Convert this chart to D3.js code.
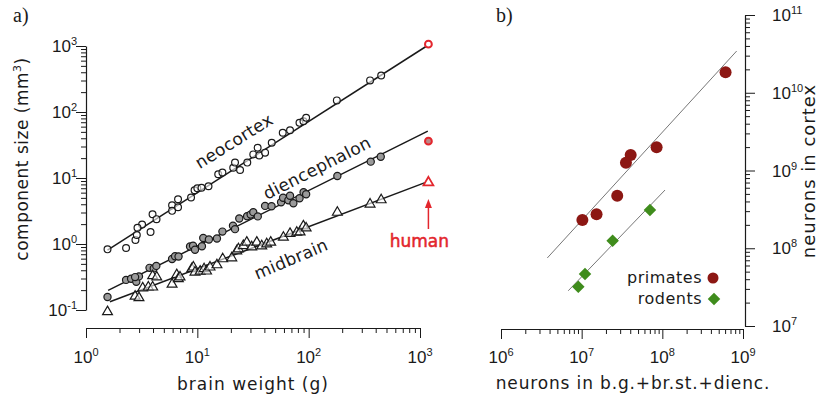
<!DOCTYPE html>
<html>
<head>
<meta charset="utf-8">
<script src="https://cdn.jsdelivr.net/npm/d3@7"></script>
<style>
  body { margin: 0; background: #fff; }
  svg { display: block; }
</style>
</head>
<body>
<svg id="chart" width="820" height="399"></svg>
<script>
// ---- panel a: [brain weight (g), component size (mm3)] ----
const neocortex = [
  [1.56, 0.83], [2.29, 0.87], [2.78, 1.15], [2.86, 1.37], [3.19, 1.97], [2.90, 1.76],
  [3.80, 1.52], [3.96, 2.83], [4.30, 2.38], [5.93, 3.87], [5.93, 3.18], [6.71, 4.77],
  [6.71, 3.61], [8.78, 5.06], [9.44, 6.52], [10.0, 7.0], [10.9, 7.11], [12.6, 7.5],
  [15.4, 11.4], [16.8, 12.1], [21.0, 14.3], [21.8, 17.1], [24.2, 13.2], [28.1, 17.1],
  [31.8, 22.8], [34.8, 28.8], [36.0, 22.0], [40.6, 24.2], [46.6, 34.2], [58.5, 48.4],
  [68.0, 53.0], [82.7, 68.5], [89.8, 72.4], [94.9, 81.5], [179, 150], [356, 301], [448, 358]
];
const diencephalon = [
  [1.56, 0.157], [2.29, 0.286], [2.54, 0.297], [2.83, 0.267], [2.99, 0.323], [2.76, 0.315],
  [3.72, 0.435], [4.06, 0.427], [4.28, 0.466], [5.93, 0.594], [6.31, 0.652], [6.78, 0.648],
  [8.6, 0.917], [9.15, 0.943], [9.53, 0.82], [11.0, 0.923], [11.3, 1.23], [12.7, 1.17],
  [15.0, 1.21], [16.8, 1.54], [20.9, 1.89], [21.8, 1.68], [23.8, 2.44], [28.0, 2.64],
  [30.1, 2.79], [31.8, 3.04], [34.9, 2.62], [40.6, 3.78], [46.4, 3.74], [56.5, 4.30],
  [58.9, 5.03], [65.7, 4.61], [68.0, 5.39], [72.9, 4.15], [82.8, 4.94], [90.0, 6.09],
  [94.9, 5.68], [181, 10.7], [361, 17.7], [444, 21.0]
];
const midbrain = [
  [1.56, 0.094], [2.76, 0.161], [2.99, 0.153], [3.23, 0.215], [3.63, 0.222], [3.97, 0.222],
  [3.97, 0.329], [4.32, 0.315], [5.93, 0.245], [6.53, 0.341], [6.75, 0.297], [6.99, 0.315],
  [8.91, 0.42], [9.21, 0.446], [9.53, 0.374], [10.6, 0.385], [11.5, 0.42], [12.1, 0.388],
  [13.0, 0.446], [15.0, 0.482], [16.9, 0.594], [20.4, 0.615], [22.6, 0.784], [23.4, 0.841],
  [25.9, 0.943], [27.8, 1.06], [30.8, 0.901], [34.2, 1.06], [37.9, 0.933], [42.0, 1.0],
  [45.6, 1.06], [59.3, 1.26], [68.0, 1.44], [78.2, 1.50], [83.7, 1.52], [89.6, 1.87],
  [94.9, 1.74], [181, 3.01], [356, 4.01], [448, 4.66]
];
// human: neocortex, diencephalon, midbrain
const humanWeight = 1190;
const humanSizes = [1065, 36.1, 8.53];

// regression lines, [[x0, y0], [x1, y1]]
const fitNeocortex = [[1.56, 0.81], [1150, 1000]];
const fitDiencephalon = [[1.58, 0.198], [1175, 51.2]];
const fitMidbrain = [[1.64, 0.133], [1110, 8.5]];

// ---- panel b: [neurons in b.g.+br.st.+dienc., neurons in cortex] ----
const primates = [
  [6.08e8, 1.83e10], [8.49e7, 1.99e9], [4.05e7, 1.58e9], [3.54e7, 1.26e9],
  [2.76e7, 4.74e8], [1.53e7, 2.73e8], [1.02e7, 2.31e8]
];
const rodents = [
  [7.02e7, 3.10e8], [2.42e7, 1.25e8], [1.10e7, 4.67e7], [9.08e6, 3.20e7]
];
const fitPrimates = [[3.75e6, 7.5e7], [8.34e8, 3.44e10]];
const fitRodents = [[6.82e6, 2.84e7], [1.08e8, 5.61e8]];

// tick exponents
const aXExp = [0, 1, 2, 3];
const aYExp = [-1, 0, 1, 2, 3];
const bXExp = [6, 7, 8, 9];
const bYExp = [7, 8, 9, 10, 11];

const svg = d3.select('#chart');
const ink = '#1a1a1a';
const red = '#e3262d';
const labelFont = '"DejaVu Sans", sans-serif';
const tickFont = '"Liberation Sans", Arial, sans-serif';

const isMajor = d => Math.abs(Math.log10(d) - Math.round(Math.log10(d))) < 1e-6;

function logAxis(g, scale, orient) {
  const make = orient === 'bottom' ? d3.axisBottom : orient === 'left' ? d3.axisLeft : d3.axisRight;
  g.call(make(scale).tickValues(scale.ticks()).tickFormat('').tickSizeOuter(0));
  g.select('.domain').attr('stroke', ink).attr('stroke-width', 1.2);
  const sign = orient === 'left' ? -1 : 1;
  g.selectAll('.tick line')
    .attr('stroke', ink)
    .attr(orient === 'bottom' ? 'y2' : 'x2', d => sign * (isMajor(d) ? 10 : 5));
}

function powerLabel(sel, exp) {
  sel.append('tspan').text('10');
  sel.append('tspan').attr('dy', -7).attr('font-size', 11).text(exp);
}

// ===== panel a =====
const xa = d3.scaleLog().domain([1, 1000]).range([86, 420]);
const ya = d3.scaleLog().domain([0.1, 1000]).range([310, 46]);

logAxis(svg.append('g').attr('transform', 'translate(0,328)'), xa, 'bottom');
logAxis(svg.append('g').attr('transform', 'translate(86,0)'), ya, 'left');

aXExp.forEach(e => {
  svg.append('text')
    .attr('x', xa(Math.pow(10, e))).attr('y', 363)
    .attr('text-anchor', 'middle')
    .style('font', `17px ${tickFont}`).attr('fill', ink)
    .call(powerLabel, e);
});
aYExp.forEach(e => {
  svg.append('text')
    .attr('x', 77).attr('y', ya(Math.pow(10, e)) + 6)
    .attr('text-anchor', 'end')
    .style('font', `17px ${tickFont}`).attr('fill', ink)
    .call(powerLabel, e);
});

// axis titles
svg.append('text')
  .attr('x', 253).attr('y', 390)
  .attr('text-anchor', 'middle')
  .style('font', `17px ${labelFont}`).style('letter-spacing', '1px')
  .attr('fill', ink)
  .text('brain weight (g)');

const ylab = svg.append('text')
  .attr('transform', 'translate(28,159) rotate(-90)')
  .attr('text-anchor', 'middle')
  .style('font', `17px ${labelFont}`).style('letter-spacing', '0.5px')
  .attr('fill', ink);
ylab.append('tspan').text('component size (mm');
ylab.append('tspan').attr('dy', -7).attr('font-size', 11).text('3');
ylab.append('tspan').attr('dy', 7).text(')');

// regression lines
const lineA = d3.line().x(d => xa(d[0])).y(d => ya(d[1]));
[fitNeocortex, fitDiencephalon, fitMidbrain].forEach(f => {
  svg.append('path').attr('d', lineA(f))
    .attr('fill', 'none').attr('stroke', ink).attr('stroke-width', 1.5);
});

// points
svg.append('g').selectAll('circle').data(neocortex).join('circle')
  .attr('cx', d => xa(d[0])).attr('cy', d => ya(d[1])).attr('r', 3.4)
  .attr('fill', '#fff').attr('fill-opacity', 0.6)
  .attr('stroke', ink).attr('stroke-width', 1.2);

svg.append('g').selectAll('circle').data(diencephalon).join('circle')
  .attr('cx', d => xa(d[0])).attr('cy', d => ya(d[1])).attr('r', 3.6)
  .attr('fill', '#9a9a9a')
  .attr('stroke', ink).attr('stroke-width', 1.2);

const tri = d3.symbol().type(d3.symbolTriangle).size(42);
svg.append('g').selectAll('path').data(midbrain).join('path')
  .attr('d', tri)
  .attr('transform', d => `translate(${xa(d[0])},${ya(d[1])})`)
  .attr('fill', '#fff').attr('fill-opacity', 0.6)
  .attr('stroke', ink).attr('stroke-width', 1.2);

// human
const hx = xa(humanWeight);
svg.append('circle').attr('cx', hx).attr('cy', ya(humanSizes[0])).attr('r', 3.4)
  .attr('fill', '#fff').attr('stroke', red).attr('stroke-width', 2);
svg.append('circle').attr('cx', hx).attr('cy', ya(humanSizes[1])).attr('r', 3.4)
  .attr('fill', '#b88').attr('stroke', red).attr('stroke-width', 2);
svg.append('path').attr('d', tri)
  .attr('transform', `translate(${hx},${ya(humanSizes[2])})`)
  .attr('fill', '#fff').attr('stroke', red).attr('stroke-width', 1.8);

svg.append('line').attr('x1', hx).attr('x2', hx).attr('y1', 229).attr('y2', 206)
  .attr('stroke', red).attr('stroke-width', 1.5);
svg.append('path').attr('d', `M${hx - 3.5},${208}L${hx},${199}L${hx + 3.5},${208}Z`)
  .attr('fill', red);
svg.append('text').attr('x', hx - 9).attr('y', 247)
  .attr('text-anchor', 'middle')
  .style('font', `17px ${labelFont}`).attr('fill', red)
  .attr('stroke', red).attr('stroke-width', 0.5)
  .text('human');

// curve labels
[['neocortex', 234, 141, -32], ['diencephalon', 317, 168, -27], ['midbrain', 291, 259, -23]]
  .forEach(([t, x, y, a]) => {
    svg.append('text')
      .attr('transform', `translate(${x},${y}) rotate(${a})`)
      .attr('text-anchor', 'middle').attr('dy', '0.35em')
      .style('font', `17px ${labelFont}`).style('letter-spacing', '0.3px')
      .attr('fill', ink)
      .text(t);
  });

svg.append('text').attr('x', 13).attr('y', 22)
  .style('font', '20px "Liberation Serif", "Times New Roman", serif')
  .attr('fill', ink).text('a)');

// ===== panel b =====
const xb = d3.scaleLog().domain([1e6, 1e9]).range([501, 743]);
const yb = d3.scaleLog().domain([1e7, 1e11]).range([326, 15]);

logAxis(svg.append('g').attr('transform', 'translate(0,329)'), xb, 'bottom');
logAxis(svg.append('g').attr('transform', 'translate(745,0)'), yb, 'right');

bXExp.forEach(e => {
  svg.append('text')
    .attr('x', xb(Math.pow(10, e))).attr('y', 363)
    .attr('text-anchor', 'middle')
    .style('font', `17px ${tickFont}`).attr('fill', ink)
    .call(powerLabel, e);
});
bYExp.forEach(e => {
  svg.append('text')
    .attr('x', 772).attr('y', yb(Math.pow(10, e)) + 6)
    .style('font', `17px ${tickFont}`).attr('fill', ink)
    .call(powerLabel, e);
});

svg.append('text')
  .attr('x', 633).attr('y', 389)
  .attr('text-anchor', 'middle')
  .style('font', `17px ${labelFont}`).style('letter-spacing', '0.85px')
  .attr('fill', ink)
  .text('neurons in b.g.+br.st.+dienc.');

svg.append('text')
  .attr('transform', 'translate(815,171) rotate(-90)')
  .attr('text-anchor', 'middle')
  .style('font', `18px ${labelFont}`).style('letter-spacing', '1px')
  .attr('fill', ink)
  .text('neurons in cortex');

const lineB = d3.line().x(d => xb(d[0])).y(d => yb(d[1]));
[fitPrimates, fitRodents].forEach(f => {
  svg.append('path').attr('d', lineB(f))
    .attr('fill', 'none').attr('stroke', '#777').attr('stroke-width', 1);
});

const primColor = '#8c1713';
const rodColor = '#3f8c1c';
const diamond = d3.symbol().type(d3.symbolDiamond2).size(100);

svg.append('g').selectAll('circle').data(primates).join('circle')
  .attr('cx', d => xb(d[0])).attr('cy', d => yb(d[1])).attr('r', 6)
  .attr('fill', primColor);

svg.append('g').selectAll('path').data(rodents).join('path')
  .attr('d', diamond)
  .attr('transform', d => `translate(${xb(d[0])},${yb(d[1])})`)
  .attr('fill', rodColor);

// legend
svg.append('text').attr('x', 702).attr('y', 283).attr('text-anchor', 'end')
  .style('font', `16px ${labelFont}`).style('letter-spacing', '0.5px')
  .attr('fill', ink).text('primates');
svg.append('circle').attr('cx', 713).attr('cy', 278).attr('r', 5.5).attr('fill', primColor);
svg.append('text').attr('x', 702).attr('y', 304).attr('text-anchor', 'end')
  .style('font', `16px ${labelFont}`).style('letter-spacing', '0.5px')
  .attr('fill', ink).text('rodents');
svg.append('path').attr('d', diamond).attr('transform', 'translate(714,299)').attr('fill', rodColor);

svg.append('text').attr('x', 496).attr('y', 22)
  .style('font', '20px "Liberation Serif", "Times New Roman", serif')
  .attr('fill', ink).text('b)');
</script>
</body>
</html>
